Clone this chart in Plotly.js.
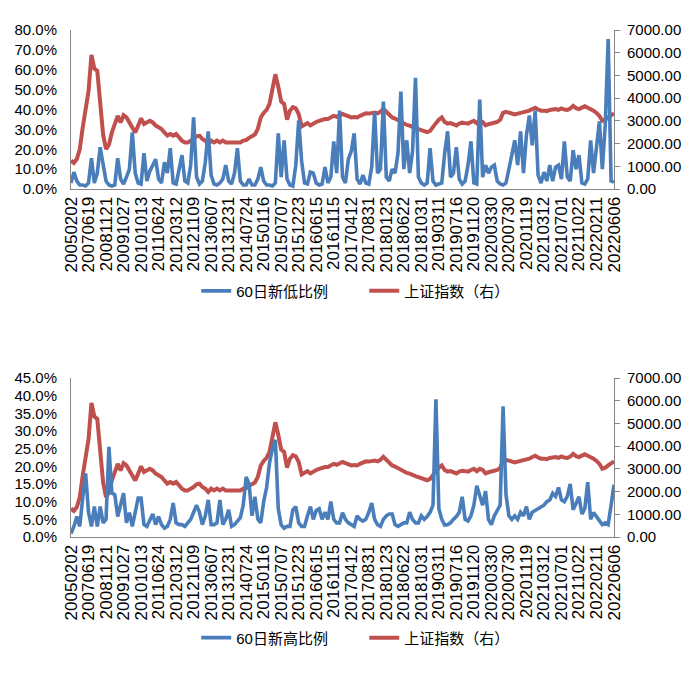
<!DOCTYPE html>
<html>
<head>
<meta charset="utf-8">
<script src="https://cdn.plot.ly/plotly-3.0.1.min.js"></script>
<style>html,body{margin:0;padding:0;background:#fff;}#chart{width:700px;height:673px;}</style>
</head>
<body>
<div id="chart"></div>
<script>
// Tick labels shown on the category axis (one every 6 sampled points)
const dateLabels = ["20050202","20070619","20081121","20091027","20101013","20110624","20120312","20121109","20130607","20131231","20140724","20150116","20150707","20151223","20160615","20161115","20170412","20170831","20180123","20180622","20181031","20190311","20190716","20191120","20200330","20200730","20201119","20210312","20210701","20211022","20220211","20220606"];
const labelStep = 6;

// 上证指数 (right axis)
const shIndex = [
1250,1150,1320,1750,2700,3500,4300,5900,5300,5200,
3700,2400,1760,1950,2490,2930,3220,2930,3250,3150,
2930,2790,2490,2790,3110,2860,2930,3000,2930,2790,
2720,2640,2490,2350,2420,2350,2420,2270,2130,2050,
2050,2130,2200,2320,2350,2200,2130,1980,2130,2050,
2130,2050,2130,2050,2050,2020,2020,2050,2050,2130,
2150,2250,2350,2400,2650,3150,3350,3480,3750,4350,
5050,4500,3850,3750,3050,3450,3600,3550,3300,2750,
2850,2900,2800,2900,2950,3000,3050,3080,3080,3150,
3220,3180,3250,3300,3250,3200,3150,3170,3150,3220,
3300,3330,3320,3350,3370,3330,3400,3530,3400,3250,
3150,3100,3020,2950,2860,2820,2790,2720,2680,2640,
2600,2570,2500,2560,2700,2900,3050,3150,2950,2880,
2900,2850,2800,2880,2920,2900,2880,2950,3000,2900,
3000,2950,2800,2850,2880,2900,2950,3050,3350,3400,
3350,3300,3280,3320,3350,3380,3400,3450,3520,3580,
3500,3450,3450,3430,3480,3500,3520,3480,3550,3500,
3480,3540,3660,3560,3520,3580,3640,3580,3520,3450,
3350,3220,3000,3050,3150,3250,3330];

// 60日新低比例 (%)
const newLowPct = [
3,8.5,4,2,2,1.5,3,15.5,3,8,
21,12,4,2,1.5,2,15.5,5,2.5,6,
10,28.5,8,3,2.5,18,4,9,12,15,
5,3,13.5,8,20.5,3,2.5,9,17,4,
3,12,36,6,2.5,4,13.5,29,7,2.5,
2,3,5,12,4,2.5,8,20.5,4,2,
2,5,2,2,5,11,4,2,2,1.5,
3,28,6,24.5,5,2,1.5,12,34.5,14,
3,2.5,8.5,8,3,2,2.5,11,3,6,
24,8,39.5,6,3,15,19,28,5,2.5,
7,3,2.5,11,39,8,10,44,6,4,
10,8,18,49,10,24.5,8,19,56,6,
3,2,3,20.5,4,2,2.5,3,18,29,
6,8,21,5,2.5,4,12,24,3,2.5,
45,6,12,8,11,12,4,2.5,2,3,
10,18,24.5,12,29,8,27,37,22,39.5,
7,3,8.5,4,12,4,11,12,5,24,
6,4,19.5,10,17,3,2.5,5,24.5,8,
20,34,10,32,75.5,4,3.5];

// 60日新高比例 (%)
const newHighPct = [
1,3,5.8,3,11,18,7,3,8.6,3,
8.6,4,5,25.5,12.4,12,5.8,9.6,12.4,4,
6.9,3,6.5,11,11,3.5,3,5,6.5,3.5,
5.8,3.5,2.5,3,5,9.6,4,3.5,3.5,3,
4,5,7,9,7,3.5,6,10.5,3.5,3.5,
4,10.5,3.5,5,7.7,3,3.5,4.5,5.5,9,
17,15,6,11.4,5,4,10,14,21,25,
27.5,8,3.4,2.5,3,3,7.7,8.6,4,3,
3,6,8.6,5,7.5,8,5,7,5,10,
5,4,4,6.9,5,4,3.5,3,6,5,
4.5,5,7,9.6,5,3.5,3,5,6,6.5,
6.5,3.5,3,3.4,4,4,7,5,4,4,
6,5,5.8,7,9,39,8,5,3.4,3.5,
4,5,5.8,7,11.4,5,4.5,6,9,14.5,
12,9,13,5,3.5,6,7.5,9,37,12,
6,5,6,5,7,6,8.6,5,7,7.5,
8,8.6,9,10,10.5,12.4,11.5,14,10.5,10,
11.5,15,7.7,9.5,11.4,6.5,8,15.5,5,6.9,
5.8,5,3.5,4,3.5,9,14.8];

const idx = shIndex.map((_, i) => i);
const tickPos = dateLabels.map((_, k) => k * labelStep);

const BLUE = '#4A7EBB', RED = '#C0504D', AXC = '#868686';
const FONT = 'Liberation Sans, Arial, "Noto Sans CJK SC", sans-serif';

const traces = [
  {x: idx, y: shIndex, xaxis: 'x', yaxis: 'y2', type: 'scatter', mode: 'lines', name: '上证指数（右）',
   line: {color: RED, width: 4}, legend: 'legend', legendrank: 2},
  {x: idx, y: newLowPct, xaxis: 'x', yaxis: 'y', type: 'scatter', mode: 'lines', name: '60日新低比例',
   line: {color: BLUE, width: 3.6}, legend: 'legend', legendrank: 1},
  {x: idx, y: shIndex, xaxis: 'x2', yaxis: 'y4', type: 'scatter', mode: 'lines', name: '上证指数（右）',
   line: {color: RED, width: 4}, legend: 'legend2', legendrank: 2},
  {x: idx, y: newHighPct, xaxis: 'x2', yaxis: 'y3', type: 'scatter', mode: 'lines', name: '60日新高比例',
   line: {color: BLUE, width: 3.6}, legend: 'legend2', legendrank: 1}
];

const xBase = {
  range: [0, shIndex.length - 1], tickmode: 'array', tickvals: tickPos, ticktext: dateLabels,
  tickangle: -90, tickfont: {size: 17, color: '#000', family: FONT}, showline: true, linecolor: AXC,
  linewidth: 1, ticks: '', showgrid: false, zeroline: false, fixedrange: true
};
const rightBase = {
  side: 'right', range: [0, 7000], dtick: 1000, tick0: 0, tickformat: '.2f', showline: true,
  linecolor: AXC, ticks: 'outside', ticklen: 5, tickcolor: AXC, showgrid: false, zeroline: false,
  tickfont: {size: 15, color: '#000', family: FONT}, ticklabelstandoff: 4
};
const leftBase = {
  side: 'left', showline: true, linecolor: AXC, ticks: '', showgrid: false, zeroline: false,
  tickformat: '.1f', ticksuffix: '%', tickfont: {size: 15, color: '#000', family: FONT},
  ticklabelstandoff: 10
};
const legBase = {
  orientation: 'h', xanchor: 'center', yanchor: 'middle', x: 0.54,
  font: {size: 15, color: '#000', family: FONT}, bgcolor: 'rgba(0,0,0,0)', traceorder: 'normal',
  entrywidth: 123, entrywidthmode: 'pixels'
};

const layout = {
  width: 700, height: 673,
  margin: {l: 71, r: 86, t: 30, b: 136},
  paper_bgcolor: '#fff', plot_bgcolor: 'rgba(0,0,0,0)',
  font: {family: FONT},
  xaxis: Object.assign({}, xBase, {anchor: 'y2'}),
  yaxis2: Object.assign({}, rightBase, {domain: [0.6864, 1], anchor: 'x'}),
  yaxis: Object.assign({}, leftBase, {overlaying: 'y2', anchor: 'x', range: [0, 80], dtick: 10, tick0: 0}),
  xaxis2: Object.assign({}, xBase, {anchor: 'y4'}),
  yaxis4: Object.assign({}, rightBase, {domain: [0, 0.3136], anchor: 'x2'}),
  yaxis3: Object.assign({}, leftBase, {overlaying: 'y4', anchor: 'x2', range: [0, 45], dtick: 5, tick0: 0}),
  legend: Object.assign({}, legBase, {y: 0.485}),
  legend2: Object.assign({}, legBase, {y: -0.199}),
  showlegend: true, hovermode: false
};

Plotly.newPlot('chart', traces, layout, {staticPlot: true, displayModeBar: false});
</script>
</body>
</html>
